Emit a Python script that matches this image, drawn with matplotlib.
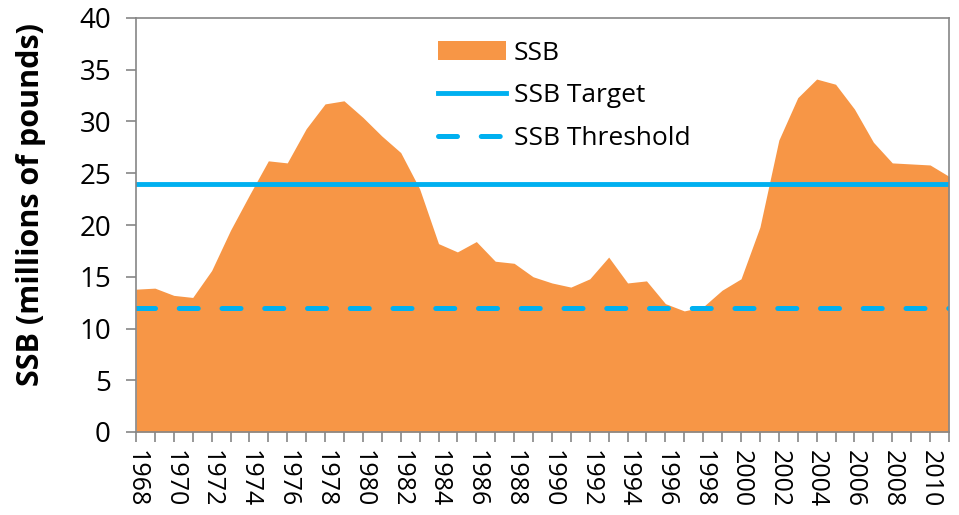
import matplotlib.pyplot as plt
import numpy as np

years = list(range(1968, 2012))
ssb = [13.8, 13.9, 13.2, 13.0, 15.6, 19.5, 22.9, 26.2, 26.0, 29.3,
       31.7, 32.0, 30.4, 28.6, 27.0, 23.5, 18.2, 17.4, 18.4, 16.5,
       16.3, 15.0, 14.4, 14.0, 14.8, 16.9, 14.4, 14.6, 12.4, 11.7,
       12.1, 13.7, 14.8, 19.8, 28.2, 32.3, 34.1, 33.6, 31.2, 28.0,
       26.0, 25.9, 25.8, 24.7]
ssb_target = 24
ssb_threshold = 12

orange = '#F79646'
blue = '#00B0F0'
gray = '#868686'

plt.rcParams['font.family'] = ['Open Sans', 'DejaVu Sans']

fig = plt.figure(figsize=(9.59, 5.15), dpi=100)
ax = fig.add_axes([136 / 959, 1 - 432 / 515, (949 - 136) / 959, (432 - 18) / 515])

ax.fill_between(years, ssb, 0, color=orange, linewidth=0, label='SSB')
ax.axhline(ssb_target, color=blue, linewidth=3.5, label='SSB Target')
ax.axhline(ssb_threshold, color=blue, linewidth=3.6, linestyle=(0, (3.8, 4.75)),
           dash_capstyle='round', label='SSB Threshold')

ax.set_xlim(years[0], years[-1])
ax.set_ylim(0, 40)
ax.set_yticks(range(0, 41, 5))
ax.set_xticks(years)
ax.set_xticklabels([str(y) if (y - years[0]) % 2 == 0 else '' for y in years],
                   rotation=-90, va='top', ha='center', fontsize=18)

for s in ax.spines.values():
    s.set_color(gray)
    s.set_linewidth(1.2)
ax.tick_params(axis='both', colors=gray, labelcolor='black',
               length=7, width=1.2)
ax.tick_params(axis='y', pad=11, labelsize=20)
ax.tick_params(axis='x', pad=6)

fig.text(31 / 959, 1 - 205 / 515, 'SSB (millions of pounds)', rotation=90,
         ha='center', va='center', fontsize=22, fontweight='bold')

ax.legend(loc='upper left', bbox_to_anchor=((427 - 136) / 813, 1 - 12 / 414),
          frameon=False, fontsize=19, handlelength=2.6, handletextpad=0.3,
          labelspacing=0.67, borderaxespad=0)

fig.savefig('out.png', dpi=100)
